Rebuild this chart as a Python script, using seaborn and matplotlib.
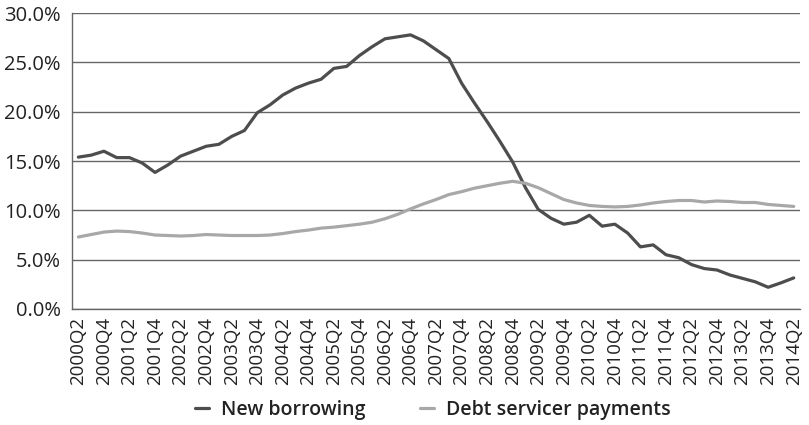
import numpy as np
import pandas as pd
import matplotlib
matplotlib.use("Agg")
import matplotlib.pyplot as plt
import seaborn as sns
from matplotlib.ticker import FixedLocator, FuncFormatter

# Quarterly periods, 2000Q2 .. 2014Q2
quarters = [f"{y}Q{q}" for y in range(2000, 2015) for q in range(1, 5)]
quarters = quarters[quarters.index("2000Q2"):quarters.index("2014Q2") + 1]

new_borrowing = [
    15.4, 15.6, 16.0, 15.35, 15.35, 14.8, 13.85, 14.6, 15.5, 16.0,
    16.5, 16.7, 17.5, 18.1, 19.9, 20.7, 21.7, 22.4, 22.9, 23.3,
    24.4, 24.6, 25.7, 26.6, 27.4, 27.6, 27.8, 27.2, 26.3, 25.4,
    22.9, 20.9, 19.0, 17.0, 14.9, 12.3, 10.1, 9.2, 8.6, 8.8,
    9.5, 8.4, 8.6, 7.7, 6.3, 6.5, 5.5, 5.2, 4.5, 4.1,
    3.95, 3.45, 3.1, 2.75, 2.2, 2.65, 3.15,
]
debt_service = [
    7.3, 7.55, 7.8, 7.9, 7.85, 7.7, 7.5, 7.45, 7.4, 7.45,
    7.55, 7.5, 7.45, 7.45, 7.45, 7.5, 7.65, 7.85, 8.0, 8.2,
    8.3, 8.45, 8.6, 8.8, 9.15, 9.6, 10.15, 10.65, 11.1, 11.6,
    11.9, 12.25, 12.5, 12.75, 12.95, 12.75, 12.3, 11.7, 11.1, 10.75,
    10.5, 10.4, 10.35, 10.4, 10.55, 10.75, 10.9, 11.0, 11.0, 10.85,
    10.95, 10.9, 10.8, 10.8, 10.6, 10.5, 10.4,
]
series_names = ["New borrowing", "Debt servicer payments"]
series_colors = ["#4d4d4d", "#a8a8a8"]

df = pd.DataFrame({
    "pos": np.tile(np.arange(len(quarters)), 2),
    "value": new_borrowing + debt_service,
    "series": np.repeat(series_names, len(quarters)),
})

sns.set_style("white")
plt.rcParams["font.family"] = ["Open Sans", "DejaVu Sans"]
text_color = "#222222"
grid_color = "#666666"

fig = plt.figure(figsize=(8.09, 4.25), dpi=100)
ax = fig.add_axes([0.089, 0.273, 0.900, 0.696])

sns.lineplot(data=df, x="pos", y="value", hue="series", hue_order=series_names,
             palette=series_colors, linewidth=2.3, ax=ax, legend=False)

ax.set_xlim(-0.5, len(quarters) - 0.5)
ax.set_ylim(0, 30)
ax.set_yticks(np.arange(0, 31, 5))
ax.yaxis.set_major_formatter(FuncFormatter(lambda v, _: f"{v:.1f}%"))
ax.grid(axis="y", color=grid_color, linewidth=1.0)
ax.set_axisbelow(True)

# labels on every second quarter, tick marks on quarter boundaries
ax.set_xticks(np.arange(0, len(quarters), 2))
ax.set_xticklabels(quarters[::2], rotation=90)
ax.xaxis.set_minor_locator(FixedLocator(np.arange(-0.5, len(quarters), 1.0)))
ax.tick_params(axis="x", which="major", length=0, pad=6, labelsize=13.5, labelcolor=text_color)
ax.tick_params(axis="x", which="minor", length=5, width=1.0, color=grid_color, direction="out")
ax.tick_params(axis="y", length=5, width=1.0, color=grid_color, direction="out",
               labelsize=14.5, labelcolor=text_color, pad=3)
ax.set_xlabel("")
ax.set_ylabel("")

for side in ("top", "right"):
    ax.spines[side].set_visible(False)
for side in ("left", "bottom"):
    ax.spines[side].set_color(grid_color)
    ax.spines[side].set_linewidth(1.0)

handles = [plt.Line2D([], [], color=c, linewidth=2.3) for c in series_colors]
leg = fig.legend(handles, series_names, loc="center", bbox_to_anchor=(0.535, 0.035),
                 ncol=2, frameon=False, handlelength=0.75, handletextpad=0.6,
                 columnspacing=2.8, prop={"size": 14, "weight": "semibold"})
for t in leg.get_texts():
    t.set_color(text_color)

fig.savefig("out.png", dpi=100)
